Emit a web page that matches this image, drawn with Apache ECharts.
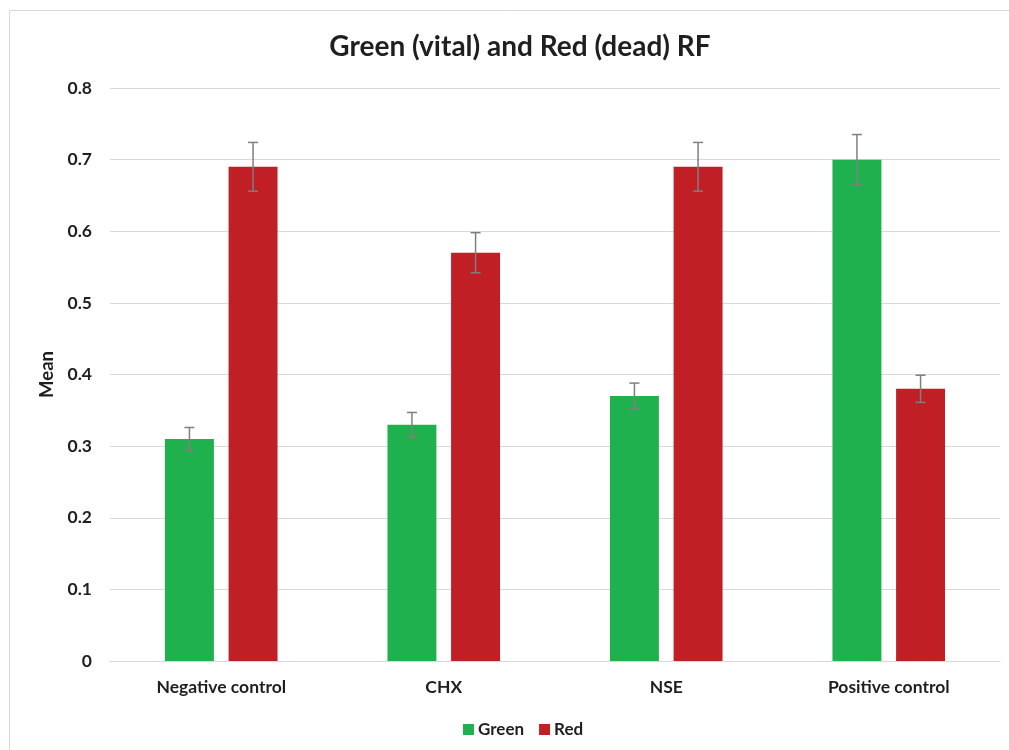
<!DOCTYPE html>
<html>
<head>
<meta charset="utf-8">
<script src="https://cdn.jsdelivr.net/npm/echarts@6/dist/echarts.min.js"></script>
<style>html,body{margin:0;padding:0;background:#fff}#c{width:1009px;height:750px}</style>
</head>
<body>
<div id="c"></div>
<script>
var categories = ['Negative control', 'CHX', 'NSE', 'Positive control'];
var greenValues = [0.31, 0.33, 0.37, 0.70];
var redValues = [0.69, 0.57, 0.69, 0.38];
var greenErrors = [0.016, 0.017, 0.018, 0.035];
var redErrors = [0.034, 0.028, 0.034, 0.019];
var yTicks = [0, 0.1, 0.2, 0.3, 0.4, 0.5, 0.6, 0.7, 0.8];

var FONT = 'Lato';
var TEXT = '#1f1f1f';
var BAR_W = 0.22, GAP = 0.30;
var offsetFrac = BAR_W * (1 + GAP) / 2;

function errSeries(name, vals, errs, sign) {
  var data = vals.map(function (v, i) { return [i, v, errs[i]]; });
  return {
    type: 'custom', name: name + ' err', silent: true, z: 5,
    data: data,
    renderItem: function (params, api) {
      var i = api.value(0), v = api.value(1), e = api.value(2);
      var band = api.size([1, 0])[0];
      var cx = api.coord([i, v])[0] + sign * offsetFrac * band;
      var top = api.coord([i, v + e])[1];
      var bot = api.coord([i, v - e])[1];
      var cap = 5;
      var st = { stroke: '#7f7f7f', lineWidth: 1.5 };
      return { type: 'group', children: [
        { type: 'line', shape: { x1: cx, y1: top, x2: cx, y2: bot }, style: st },
        { type: 'line', shape: { x1: cx - cap, y1: top, x2: cx + cap, y2: top }, style: st },
        { type: 'line', shape: { x1: cx - cap, y1: bot, x2: cx + cap, y2: bot }, style: st }
      ]};
    }
  };
}

var chart = echarts.init(document.getElementById('c'), null, { renderer: 'canvas' });
chart.setOption({
  animation: false,
  backgroundColor: '#fff',
  graphic: [{ type: 'rect', shape: { x: 9.5, y: 10.5, width: 1010, height: 760 }, style: { fill: 'none', stroke: '#d9d9d9', lineWidth: 1 }, z: -1 }],
  title: { text: 'Green (vital) and Red (dead) RF', left: 515, top: 28, textAlign: 'center',
    textStyle: { fontFamily: FONT, fontWeight: 'bold', fontSize: 28, color: TEXT } },
  legend: { left: 458, top: 716, itemWidth: 11, itemHeight: 11, itemGap: 15, icon: 'rect',
    data: ['Green', 'Red'],
    textStyle: { fontFamily: FONT, fontWeight: 'bold', fontSize: 17, color: TEXT, padding: [0, 0, 0, -1] } },
  grid: { left: 110, right: 9, top: 88, bottom: 89 },
  xAxis: { type: 'category', data: categories,
    axisLine: { lineStyle: { color: '#d9d9d9', width: 1 } }, axisTick: { show: false },
    axisLabel: { fontFamily: FONT, fontWeight: 'bold', fontSize: 17.5, color: TEXT, margin: 17 } },
  yAxis: { type: 'value', min: yTicks[0], max: yTicks[yTicks.length - 1], interval: 0.1,
    name: 'Mean', nameLocation: 'middle', nameGap: 52,
    nameTextStyle: { fontFamily: FONT, fontWeight: 'bold', fontSize: 18.5, color: TEXT },
    axisLine: { show: false }, axisTick: { show: false },
    splitLine: { lineStyle: { color: '#d9d9d9', width: 1 } },
    axisLabel: { fontFamily: FONT, fontWeight: 'bold', fontSize: 17.5, color: TEXT, margin: 18,
      formatter: function (v) { return v === 0 ? '0' : v.toFixed(1); } } },
  series: [
    { name: 'Green', type: 'bar', data: greenValues, barWidth: (BAR_W * 100) + '%', barGap: (GAP * 100) + '%',
      itemStyle: { color: '#20b14f' } },
    { name: 'Red', type: 'bar', data: redValues, barWidth: (BAR_W * 100) + '%', barGap: (GAP * 100) + '%',
      itemStyle: { color: '#c01f26' } },
    errSeries('Green', greenValues, greenErrors, -1),
    errSeries('Red', redValues, redErrors, 1)
  ]
});
</script>
</body>
</html>
